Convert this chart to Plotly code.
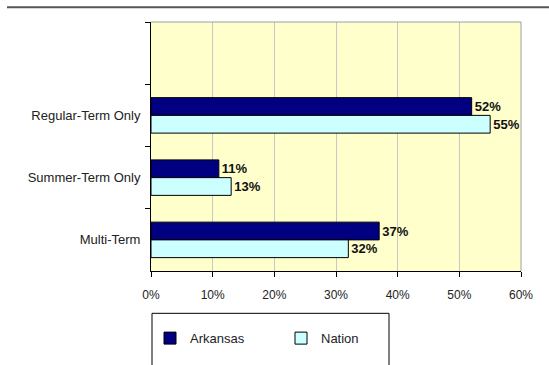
import plotly.graph_objects as go

categories = [" ", "Regular-Term Only", "Summer-Term Only", "Multi-Term"]
arkansas = [None, 52, 11, 37]
nation = [None, 55, 13, 32]
tick_vals = [0, 10, 20, 30, 40, 50, 60]
tick_text = ["0%", "10%", "20%", "30%", "40%", "50%", "60%"]

W, H = 549, 365
L, R, T, B = 151, 28, 22, 90
pw, ph = W - L - R, H - T - B

def lbl(vals):
    return [("" if v is None else f"{v}%") for v in vals]

fig = go.Figure()
fig.add_trace(go.Bar(
    y=categories, x=arkansas, orientation="h", name="Arkansas",
    marker=dict(color="#000080", line=dict(color="#000000", width=1)),
    text=lbl(arkansas), textposition="outside", cliponaxis=False,
    textfont=dict(family="Liberation Sans, Arial", size=13, color="#111111", weight="bold"),
))
fig.add_trace(go.Bar(
    y=categories, x=nation, orientation="h", name="Nation",
    marker=dict(color="#CCFFFF", line=dict(color="#000000", width=1)),
    text=lbl(nation), textposition="outside", cliponaxis=False,
    textfont=dict(family="Liberation Sans, Arial", size=13, color="#111111", weight="bold"),
))

fig.update_layout(
    width=W, height=H,
    margin=dict(l=L, r=R, t=T, b=B, pad=0),
    paper_bgcolor="white", plot_bgcolor="#FFFFCC",
    barmode="group", bargap=0.43, bargroupgap=0,
    font=dict(family="Liberation Sans, Arial", size=13, color="#222222"),
    showlegend=True,
    legend=dict(orientation="h", x=(150 - L) / pw, y=(H - B - 328) / ph,
                xanchor="left", yanchor="top",
                entrywidth=86, font=dict(size=13, color="#222222"),
                bgcolor="rgba(0,0,0,0)", borderwidth=0),
    xaxis=dict(range=[0, 60], tickvals=tick_vals, ticktext=tick_text,
               showgrid=True, gridcolor="#C8C8C8", gridwidth=1,
               showline=True, linecolor="#000000", linewidth=1,
               ticks="outside", ticklen=5, tickcolor="#000000",
               tickfont=dict(size=12), ticklabelstandoff=8,
               mirror=False, zeroline=False, fixedrange=True),
    yaxis=dict(type="category", categoryorder="array", categoryarray=categories,
               autorange="reversed",
               showline=True, linecolor="#000000", linewidth=1,
               ticks="outside", ticklen=5, tickcolor="#000000",
               ticklabelstandoff=7,
               tickson="boundaries", showgrid=False, fixedrange=True),
)

# plot frame top/right (grey)
fig.add_shape(type="line", xref="paper", yref="paper", x0=0, x1=1, y0=1, y1=1,
              line=dict(color="#A0A0A0", width=1))
fig.add_shape(type="line", xref="paper", yref="paper", x0=1, x1=1, y0=0, y1=1,
              line=dict(color="#A0A0A0", width=1))
# top horizontal rule
fig.add_shape(type="line", xref="paper", yref="paper",
              x0=(7 - L) / pw, x1=(W - L) / pw,
              y0=(H - B - 7) / ph, y1=(H - B - 7) / ph,
              line=dict(color="#555555", width=2))
# legend box
fig.add_shape(type="rect", xref="paper", yref="paper",
              x0=(152 - L) / pw, x1=(389 - L) / pw,
              y0=(H - B - 385) / ph, y1=(H - B - 318) / ph,
              line=dict(color="#000000", width=1), fillcolor="rgba(0,0,0,0)")

fig.write_html("out.html", config={"displayModeBar": False},
               post_script="document.body.style.margin='0px';document.body.style.overflow='hidden';")
